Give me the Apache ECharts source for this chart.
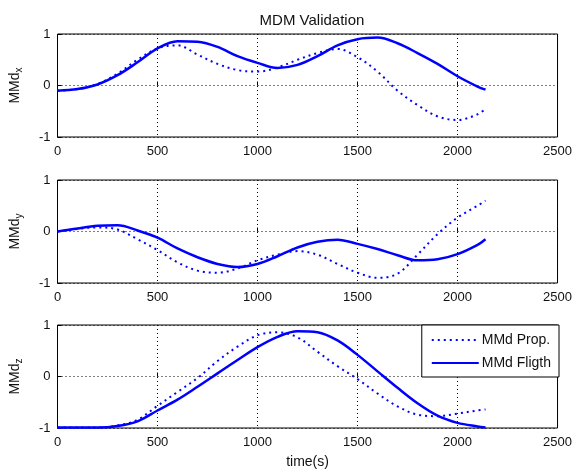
<!DOCTYPE html>
<html>
<head>
<meta charset="utf-8">
<script src="https://cdn.jsdelivr.net/npm/echarts@6/dist/echarts.min.js"></script>
<style>
html,body{margin:0;padding:0;background:#fff;}
#c{width:575px;height:472px;}
</style>
</head>
<body>
<div id="c"></div>
<script>
const time = [0,100,200,300,400,500,600,700,800,900,1000,1100,1200,1300,1400,1500,1600,1700,1800,1900,2000,2100,2140];
const xProp  = [-0.1,-0.07,0.03,0.23,0.5,0.72,0.78,0.6,0.42,0.3,0.27,0.35,0.5,0.63,0.71,0.55,0.27,-0.1,-0.38,-0.6,-0.67,-0.56,-0.45];
const xFlight= [-0.1,-0.07,0.02,0.2,0.45,0.72,0.86,0.85,0.75,0.57,0.44,0.34,0.4,0.57,0.78,0.9,0.93,0.82,0.63,0.42,0.18,-0.02,-0.08];
const yProp  = [0,0.05,0.08,0.04,-0.15,-0.36,-0.6,-0.76,-0.8,-0.72,-0.56,-0.45,-0.38,-0.45,-0.63,-0.8,-0.9,-0.82,-0.45,-0.05,0.27,0.5,0.6];
const yFlight= [0,0.06,0.11,0.12,0.02,-0.12,-0.33,-0.5,-0.63,-0.69,-0.63,-0.48,-0.31,-0.2,-0.16,-0.24,-0.34,-0.46,-0.56,-0.54,-0.44,-0.26,-0.15];
const zProp  = [-0.99,-0.99,-0.99,-0.95,-0.84,-0.57,-0.3,-0.03,0.3,0.58,0.8,0.86,0.76,0.48,0.2,-0.05,-0.33,-0.58,-0.74,-0.77,-0.72,-0.66,-0.64];
const zFlight= [-0.99,-0.99,-0.99,-0.96,-0.87,-0.66,-0.45,-0.2,0.06,0.32,0.57,0.77,0.88,0.86,0.7,0.42,0.1,-0.22,-0.52,-0.76,-0.9,-0.97,-0.99];
const xTicks = [0,500,1000,1500,2000,2500];
const yTicks = [-1,0,1];
const yNames = ['x','y','z'];
const seriesNames = ['MMd Prop.','MMd Fligth'];

const FONT = 'Liberation Sans, Arial, sans-serif';
const tops = [34,180,325];
const H = 103;
const chart = echarts.init(document.getElementById('c'), null, {renderer:'canvas'});
const pair = (v) => time.map((t,i)=>[t,v[i]]);
const dataSets = [[xProp,xFlight],[yProp,yFlight],[zProp,zFlight]];

const grids = tops.map(t=>({left:57,right:15,top:t,height:H,show:true,borderColor:'#000',borderWidth:1,backgroundColor:'#fff',containLabel:false}));
const xAxes = tops.map((t,i)=>({
  type:'value',gridIndex:i,min:xTicks[0],max:xTicks[xTicks.length-1],interval:xTicks[1]-xTicks[0],
  axisLine:{show:false},
  axisTick:{show:true,inside:true,length:4,lineStyle:{color:'#000'}},
  axisLabel:{color:'#111',fontSize:13,fontFamily:FONT,margin:8,formatter:(v)=>String(v)},
  splitLine:{show:true,lineStyle:{color:'#000',type:[1,3],width:1}},
  name: i===2 ? 'time(s)' : '',
  nameLocation:'middle',nameGap:27,
  nameTextStyle:{color:'#111',fontSize:14,fontFamily:FONT}
}));
const yAxes = tops.map((t,i)=>({
  type:'value',gridIndex:i,min:yTicks[0],max:yTicks[yTicks.length-1],interval:1,
  axisLine:{show:false},
  axisTick:{show:true,inside:true,length:4,lineStyle:{color:'#000'}},
  axisLabel:{color:'#111',fontSize:13,fontFamily:FONT,margin:7,formatter:(v)=>String(v)},
  splitLine:{show:true,lineStyle:{color:'#000',type:[1,3],width:1}},
  name:'{a|MMd}{b|'+yNames[i]+'}',
  nameLocation:'middle',nameGap:33,nameRotate:90,
  nameTextStyle:{color:'#111',fontSize:14,fontFamily:FONT,
    rich:{a:{color:'#111',fontSize:14,fontFamily:FONT},
          b:{color:'#111',fontSize:10,fontFamily:FONT,padding:[9,0,0,0]}}}
}));
const series = [];
dataSets.forEach((ds,i)=>{
  series.push({name:seriesNames[0],type:'line',xAxisIndex:i,yAxisIndex:i,data:pair(ds[0]),smooth:0.35,
    symbol:'none',lineStyle:{color:'#0000ff',width:2,type:[2,4]},itemStyle:{color:'#0000ff'},z:3});
  series.push({name:seriesNames[1],type:'line',xAxisIndex:i,yAxisIndex:i,data:pair(ds[1]),smooth:0.35,
    symbol:'none',lineStyle:{color:'#0000ff',width:2.5,type:'solid'},itemStyle:{color:'#0000ff'},z:4});
});
chart.setOption({
  animation:false,
  backgroundColor:'#fff',
  title:{text:'MDM Validation',left:307,top:8,textAlign:'center',
    textStyle:{color:'#111',fontSize:15,fontWeight:'normal',fontFamily:FONT}},
  legend:{data:seriesNames,orient:'vertical',right:16,top:325,
    backgroundColor:'#fff',borderColor:'#000',borderWidth:1,padding:[8,8,7,9],
    itemWidth:47,itemHeight:14,itemGap:9,
    itemStyle:{opacity:0},
    textStyle:{color:'#111',fontSize:14,fontFamily:FONT,padding:[0,0,0,-2]}},
  grid:grids,xAxis:xAxes,yAxis:yAxes,series:series
});
</script>
</body>
</html>
